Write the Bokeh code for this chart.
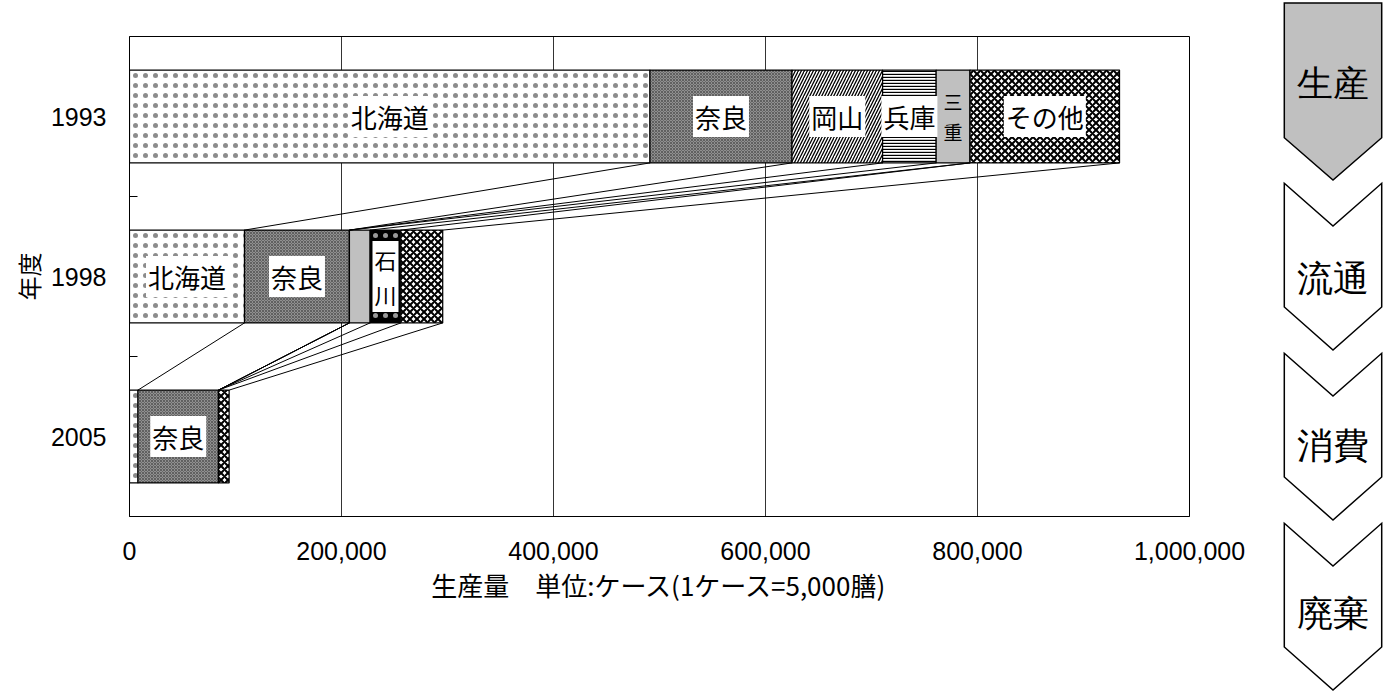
from bokeh.plotting import figure
from bokeh.models import Range1d, FixedTicker, NumeralTickFormatter, ColumnDataSource, Div
from bokeh.layouts import row
from bokeh.embed import file_html
from bokeh.resources import INLINE
from bokeh.core.properties import value

# ---------------- data ----------------
years = ["1993", "1998", "2005"]
series_names = ["北海道", "奈良", "岡山", "兵庫", "三重", "石川", "その他"]
hokkaido = [491000, 108500, 8000]
nara = [134000, 99000, 76000]
okayama = [85500, 0, 0]
hyogo = [50500, 0, 0]
mie = [32000, 19500, 0]
ishikawa = [0, 29000, 0]
others = [141000, 39500, 10000]
x_ticks = [0, 200000, 400000, 600000, 800000, 1000000]
stages = ["生産", "流通", "消費", "廃棄"]

# labels drawn on segments (empty = no label)
labels_1993 = ["北海道", "奈良", "岡山", "兵庫", "三重", "", "その他"]
labels_1998 = ["北海道", "奈良", "", "", "", "石川", ""]
labels_2005 = ["", "奈良", "", "", "", "", ""]

series_values = [hokkaido, nara, okayama, hyogo, mie, ishikawa, others]
year_labels = [labels_1993, labels_1998, labels_2005]

# ---------------- styles ----------------
styles = [
    dict(fill_color="white", hatch_pattern=".", hatch_color="black", hatch_scale=10, hatch_weight=0.5, hatch_alpha=0.45),
    dict(fill_color="#909090", hatch_pattern="x", hatch_color="#404040", hatch_scale=3, hatch_weight=0.6),
    dict(fill_color="white", hatch_pattern="/", hatch_color="black", hatch_scale=6, hatch_weight=1.3),
    dict(fill_color="white", hatch_pattern="-", hatch_color="black", hatch_scale=3, hatch_weight=1.4),
    dict(fill_color="#c0c0c0"),
    dict(fill_color="black", hatch_pattern=".", hatch_color="white", hatch_scale=10, hatch_weight=0.5, hatch_alpha=0.6),
    dict(fill_color="white", hatch_pattern="x", hatch_color="black", hatch_scale=7, hatch_weight=2.0),
]

ypos = [2.5, 1.5, 0.5]   # category centres (1993 top)
bar_h = 0.58

p = figure(width=1270, height=693, x_range=Range1d(0, 1000000), y_range=Range1d(0, 3),
           min_border_left=129, min_border_right=81, min_border_top=36, min_border_bottom=177,
           toolbar_location=None, output_backend="svg")
p.background_fill_color = "white"
p.border_fill_color = "white"
p.outline_line_color = "black"
p.outline_line_width = 1

# stacked bars
cum_prev = [0, 0, 0]
cums = []
for i, vals in enumerate(series_values):
    left = list(cum_prev)
    right = [l + v for l, v in zip(left, vals)]
    src = ColumnDataSource(dict(y=ypos, left=left, right=right))
    p.hbar(y="y", left="left", right="right", height=bar_h, source=src,
           line_color="black", line_width=1.2, **styles[i])
    cums.append((left, right))
    cum_prev = right

# series lines
sx0, sy0, sx1, sy1 = [], [], [], []
for i in range(len(series_values)):
    right = cums[i][1]
    for a in range(len(years) - 1):
        b = a + 1
        sx0.append(right[a]); sy0.append(ypos[a] - bar_h / 2)
        sx1.append(right[b]); sy1.append(ypos[b] + bar_h / 2)
p.segment(x0=sx0, y0=sy0, x1=sx1, y1=sy1, line_color="black", line_width=1)

# labels
bx, by, bt, bs = [], [], [], []
nx, ny, nt = [], [], []
for yi, labs in enumerate(year_labels):
    for i, lab in enumerate(labs):
        if not lab:
            continue
        left, right = cums[i][0][yi], cums[i][1][yi]
        xc = (left + right) / 2
        if lab == "三重":
            nx.append(xc); ny.append(ypos[yi]); nt.append("三\n重")
        elif lab == "石川":
            bx.append(xc); by.append(ypos[yi]); bt.append("石\n川"); bs.append("22px")
        else:
            bx.append(xc); by.append(ypos[yi]); bt.append(lab); bs.append("26px")
p.text(x=bx, y=by, text=bt, text_font_size=bs, text_font=value("Noto Sans CJK JP"),
       text_align="center", text_baseline="middle", text_color="black",
       background_fill_color="white", padding=2, text_line_height=1.1)
p.text(x=nx, y=ny, text=nt, text_font_size="19px", text_font=value("Noto Sans CJK JP"),
       text_align="center", text_baseline="middle", text_color="black", text_line_height=1.1)

# axes
p.xaxis.ticker = FixedTicker(ticks=x_ticks)
p.xaxis.formatter = NumeralTickFormatter(format="0,0")
p.xaxis.major_tick_in = 0
p.xaxis.major_tick_out = 0
p.xaxis.minor_tick_line_color = None
p.xaxis.major_label_text_font = "Liberation Sans"
p.xaxis.major_label_text_font_size = "25px"
p.xaxis.major_label_text_color = "black"
p.xaxis.major_label_standoff = 25
p.xaxis.axis_label = "生産量　単位:ケース(1ケース=5,000膳)"
p.xaxis.axis_label_text_font = "Noto Sans CJK JP"
p.xaxis.axis_label_text_font_size = "26px"
p.xaxis.axis_label_text_font_style = "normal"
p.xaxis.axis_label_text_color = "black"
p.xaxis.axis_label_standoff = 3
p.xaxis.axis_line_color = "black"

p.yaxis.ticker = FixedTicker(ticks=ypos, minor_ticks=[1, 2])
p.yaxis.major_label_overrides = {ypos[i]: years[i] for i in range(len(years))}
p.yaxis.major_tick_line_color = None
p.yaxis.major_tick_in = 0
p.yaxis.major_tick_out = 0
p.yaxis.minor_tick_in = 8
p.yaxis.minor_tick_out = 0
p.yaxis.minor_tick_line_color = "black"
p.yaxis.major_label_text_font = "Liberation Sans"
p.yaxis.major_label_text_font_size = "25px"
p.yaxis.major_label_text_color = "black"
p.yaxis.major_label_standoff = 23
p.yaxis.axis_label = "年度"
p.yaxis.axis_label_text_font = "Noto Sans CJK JP"
p.yaxis.axis_label_text_font_size = "24px"
p.yaxis.axis_label_text_font_style = "normal"
p.yaxis.axis_label_text_color = "black"
p.yaxis.axis_label_standoff = 2
p.yaxis.axis_line_color = "black"

p.xgrid.grid_line_color = "black"
p.xgrid.grid_line_width = 0.8
p.ygrid.grid_line_color = None

# ---------------- flow chevrons (side panel) ----------------
L, R, C = 14.3, 111.7, 63.0
chev = [[(L, 3), (R, 3), (R, 137.7), (C, 180), (L, 137.7)]]
for k in range(1, 4):
    o = 170 * (k - 1)
    chev.append([(L, 183.3 + o), (C, 226 + o), (R, 183.3 + o), (R, 307 + o), (C, 350 + o), (L, 307 + o)])
chev_fill = ["#c0c0c0", "white", "white", "white"]
stage_y = [83, 278, 445, 613]
parts = ['<svg xmlns="http://www.w3.org/2000/svg" width="121" height="693" style="display:block">']
for k in range(4):
    pts = " ".join(f"{x},{y}" for x, y in chev[k])
    parts.append(f'<polygon points="{pts}" fill="{chev_fill[k]}" stroke="black" stroke-width="1.5"/>')
    parts.append(f'<text x="{C}" y="{stage_y[k]}" font-family="Noto Sans CJK JP" font-size="36" '
                 f'text-anchor="middle" dominant-baseline="central" fill="black">{stages[k]}</text>')
parts.append('</svg>')
side = Div(text="".join(parts), width=121, height=693, margin=0, styles={"padding": "0", "margin": "0"})

layout = row(p, side, spacing=0)
open("out.html", "w").write(file_html(layout, INLINE))
